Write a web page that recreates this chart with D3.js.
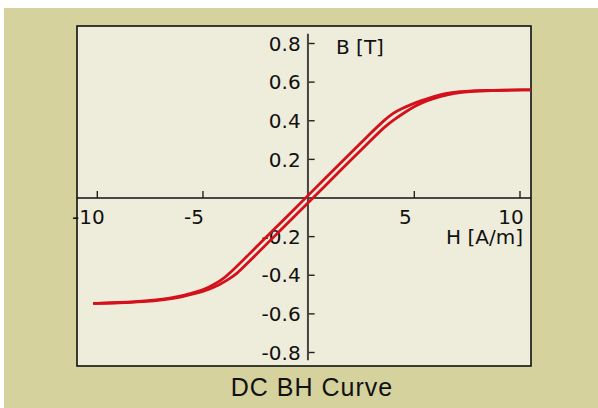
<!DOCTYPE html>
<html><head><meta charset="utf-8">
<script src="https://cdn.jsdelivr.net/npm/d3@7"></script>
<style>html,body{margin:0;padding:0;background:#fff;}svg{display:block;}</style>
</head><body>
<script>
// Data
const title = "DC BH Curve";
const xLabel = "H [A/m]";
const yLabel = "B [T]";
const xTicks = [-10, -5, 5, 10];
const xTickLabels = ["-10", "-5", "5", "10"];
const yTicks = [0.8, 0.6, 0.4, 0.2, -0.2, -0.4, -0.6, -0.8];
const yTickLabels = ["0.8", "0.6", "0.4", "0.2", "-0.2", "-0.4", "-0.6", "-0.8"];

// Descending branch (upper / left line)
const descH = [-10.2, -9.0, -7.5, -6.6, -5.9, -5.3, -4.8, -4.4, -4.0, -3.6, -3.0, -1.5, 0, 1.5, 3.0, 3.6, 4.0, 4.4, 4.8, 5.3, 5.8, 6.4, 7.1, 8.2, 10.5];
const descB = [-0.546, -0.542, -0.532, -0.52, -0.505, -0.487, -0.466, -0.443, -0.415, -0.376, -0.311, -0.147, 0.016, 0.18, 0.343, 0.405, 0.44, 0.463, 0.482, 0.503, 0.522, 0.540, 0.551, 0.558, 0.560];
// Ascending branch (lower / right line)
const ascH = [-10.2, -9.0, -7.8, -6.8, -6.0, -5.3, -4.7, -4.2, -3.8, -3.4, -3.0, -1.5, 0, 1.5, 3.0, 3.6, 4.1, 4.6, 5.1, 5.6, 6.2, 6.9, 7.6, 8.5, 10.5];
const ascB = [-0.546, -0.543, -0.537, -0.526, -0.512, -0.494, -0.472, -0.448, -0.422, -0.393, -0.349, -0.185, -0.022, 0.142, 0.305, 0.370, 0.410, 0.447, 0.480, 0.505, 0.526, 0.543, 0.552, 0.557, 0.560];

const W = 598, H = 408;
const svg = d3.select("body").append("svg").attr("width", W).attr("height", H);

// outer background
svg.append("rect").attr("x", 4).attr("y", 8).attr("width", W - 4).attr("height", H - 8).attr("fill", "#d5d29e");
// panel
svg.append("rect").attr("x", 77).attr("y", 26).attr("width", 454).attr("height", 340)
  .attr("fill", "#eeecda").attr("stroke", "#111").attr("stroke-width", 1.6);

const x = d3.scaleLinear().domain([-10, 10]).range([97.3, 520]);
const y = d3.scaleLinear().domain([-0.8, 0.8]).range([352.5, 43.5]);

const font = "'DejaVu Sans', sans-serif";
const g = svg.append("g");

// x axis line
g.append("line").attr("x1", 77).attr("x2", 531).attr("y1", y(0)).attr("y2", y(0))
  .attr("stroke", "#111").attr("stroke-width", 1.6);
// x ticks (upward)
g.selectAll(".xt").data(xTicks).enter().append("line")
  .attr("x1", d => x(d)).attr("x2", d => x(d)).attr("y1", y(0)).attr("y2", y(0) - 7)
  .attr("stroke", "#222").attr("stroke-width", 1.4);
g.selectAll(".xl").data(xTicks).enter().append("text")
  .attr("x", d => x(d) - 9).attr("y", y(0) + 26).attr("text-anchor", "middle")
  .attr("font-family", font).attr("font-size", 20).attr("fill", "#111")
  .text((d, i) => xTickLabels[i]);

// y axis line
g.append("line").attr("x1", x(0) - 0.7).attr("x2", x(0) - 0.7).attr("y1", y(0.85)).attr("y2", y(-0.84))
  .attr("stroke", "#444").attr("stroke-width", 2);
g.selectAll(".yt").data(yTicks).enter().append("line")
  .attr("x1", x(0)).attr("x2", x(0) + 6).attr("y1", d => y(d)).attr("y2", d => y(d))
  .attr("stroke", "#222").attr("stroke-width", 1.4);
g.selectAll(".yl").data(yTicks).enter().append("text")
  .attr("x", x(0) - 8).attr("y", d => y(d) + 7.2).attr("text-anchor", "end")
  .attr("font-family", font).attr("font-size", 20).attr("fill", "#111")
  .text((d, i) => yTickLabels[i]);

// axis titles
g.append("text").attr("x", 336).attr("y", 54).attr("font-family", font).attr("font-size", 20)
  .attr("fill", "#111").text(yLabel);
g.append("text").attr("x", 523).attr("y", 244).attr("text-anchor", "end").attr("font-family", font)
  .attr("font-size", 20).attr("fill", "#111").text(xLabel);

// curves
const line = d3.line().x(d => x(d[0])).y(d => y(d[1])).curve(d3.curveBasis);
const desc = descH.map((h, i) => [h, descB[i]]);
const asc = ascH.map((h, i) => [h, ascB[i]]);
[desc, asc].forEach(data => {
  svg.append("path").datum(data).attr("d", line).attr("fill", "none")
    .attr("stroke", "#d4101c").attr("stroke-width", 2.8).attr("stroke-linejoin", "round");
});

// title
svg.append("text").attr("x", 312).attr("y", 396).attr("text-anchor", "middle")
  .attr("font-family", "'Liberation Sans', Arial, sans-serif").attr("font-size", 25)
  .attr("letter-spacing", 1).attr("fill", "#111").text(title);
</script>
</body></html>
